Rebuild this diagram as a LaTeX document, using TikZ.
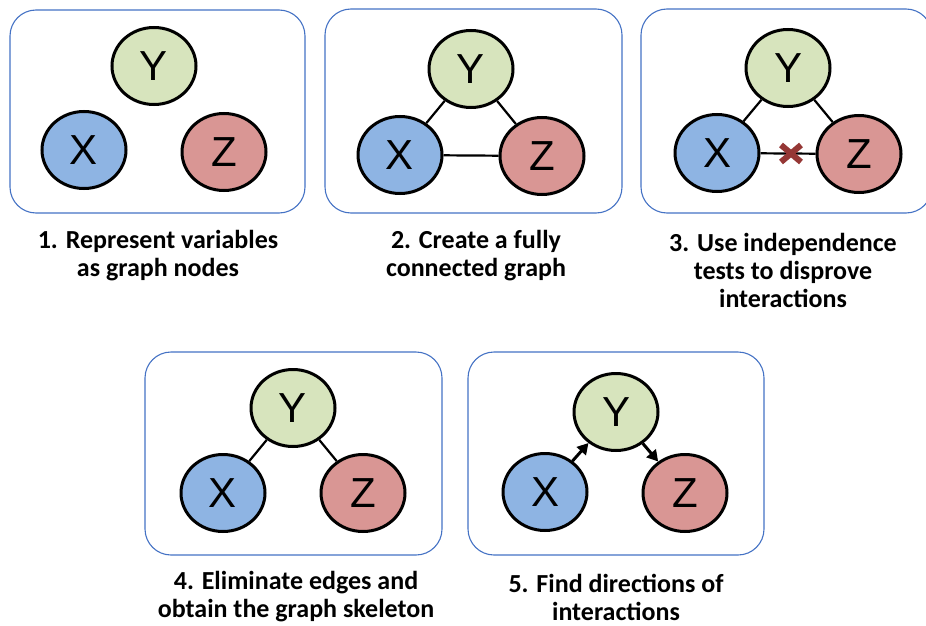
\documentclass[tikz,border=0pt]{standalone}
\usepackage{fontspec}
\setmainfont{Carlito}
\newfontfamily\letterfont{Liberation Sans}
\usetikzlibrary{shapes.geometric,arrows.meta,calc}

\definecolor{panelblue}{HTML}{4472C4}
\definecolor{xblue}{HTML}{8EB4E3}
\definecolor{ygreen}{HTML}{D7E4BD}
\definecolor{zred}{HTML}{D99694}
\definecolor{crossred}{HTML}{953735}

\tikzset{
  panel/.style={draw=panelblue, line width=1.1pt, rounded corners=26pt},
  var/.style={ellipse, draw=black, line width=3pt, minimum width=84pt,
    minimum height=77pt, inner sep=0pt,
    font=\letterfont\fontsize{42}{42}\selectfont},
  xvar/.style={var, fill=xblue},
  yvar/.style={var, fill=ygreen},
  zvar/.style={var, fill=zred},
  link/.style={line width=2.2pt},
  causal/.style={line width=3pt, -{Triangle[length=11pt,width=12pt]}},
  cut/.style={line width=6pt, draw=crossred},
  caption/.style={align=center, font=\bfseries\fontsize{26}{28}\selectfont}
}

\begin{document}
\begin{tikzpicture}[x=1pt, y=-1pt]
  \useasboundingbox (0,0) rectangle (926,626);
  \clip (0,0) rectangle (926,626);

  % Panel 1: variables as nodes
  \draw[panel] (10,10) rectangle (305,213);
  \node[yvar] (y1) at (154,66) {Y};
  \node[xvar] (x1) at (84,150) {X};
  \node[zvar] (z1) at (224,152) {Z};
  \node[caption] (c1) at (158,256) {1. Represent variables\\as graph nodes};

  % Panel 2: fully connected graph
  \draw[panel] (325,9) rectangle (622,213);
  \node[yvar] (y2) at (471,69) {Y};
  \node[xvar] (x2) at (400,155) {X};
  \node[zvar] (z2) at (542,156) {Z};
  \draw[link] (x2) -- (y2);
  \draw[link] (y2) -- (z2);
  \draw[link] (x2) -- (z2);
  \node[caption] (c2) at (476,256) {2. Create a fully\\connected graph};

  % Panel 3: independence test removes X--Z
  \draw[panel] (641,9) rectangle (932,213);
  \node[yvar] (y3) at (788,68) {Y};
  \node[xvar] (x3) at (717,153) {X};
  \node[zvar] (z3) at (859,154) {Z};
  \draw[link] (x3) -- (y3);
  \draw[link] (y3) -- (z3);
  \draw[link] (x3) -- (z3);
  \coordinate (cut3) at (791,153.5);
  \draw[cut] ($(cut3)+(-10,-8.5)$) -- ($(cut3)+(10,8.5)$);
  \draw[cut] ($(cut3)+(-10,8.5)$) -- ($(cut3)+(10,-8.5)$);
  \node[caption] (c3) at (783,270) {3. Use independence\\tests to disprove\\interactions};

  % Panel 4: skeleton
  \draw[panel] (145,352) rectangle (442,555);
  \node[yvar] (y4) at (293,408) {Y};
  \node[xvar] (x4) at (223,493) {X};
  \node[zvar] (z4) at (363,493) {Z};
  \draw[link] (x4) -- (y4);
  \draw[link] (y4) -- (z4);
  \node[caption] (c4) at (296,597) {4. Eliminate edges and\\obtain the graph skeleton};

  % Panel 5: oriented edges
  \draw[panel] (468,352) rectangle (764,555);
  \node[yvar] (y5) at (616,412) {Y};
  \node[xvar] (x5) at (545,492) {X};
  \node[zvar] (z5) at (685,493) {Z};
  \draw[causal] (x5) -- (y5);
  \draw[causal] (y5) -- (z5);
  \node[caption] (c5) at (616,597) {5. Find directions of\\interactions};
\end{tikzpicture}
\end{document}
